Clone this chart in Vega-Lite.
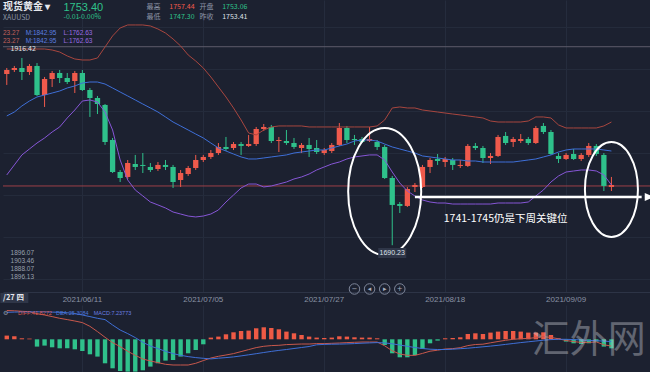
{
  "$schema": "https://vega.github.io/schema/vega-lite/v6.json",
  "background": "#1c2130",
  "padding": 0,
  "spacing": 1,
  "config": {"view": {"stroke": null}, "font": "Noto Sans CJK SC", "axis": {"labelFont": "Liberation Sans"}},
  "datasets": {
    "k": [
      {"d":"2021/05/28","o":1893.9,"c":1898.7,"h":1901.1,"l":1880.9,"u":1923.7,"m":1844.0,"b":1773.8,"hist":3.7,"dif":28.8,"dea":27.0},
      {"d":"2021/05/31","o":1898.7,"c":1901.1,"h":1903.5,"l":1896.3,"u":1923.7,"m":1848.7,"b":1785.7,"hist":3.0,"dif":28.5,"dea":27.2},
      {"d":"2021/06/01","o":1901.1,"c":1896.3,"h":1913.0,"l":1886.8,"u":1923.7,"m":1855.9,"b":1797.6,"hist":1.0,"dif":28.0,"dea":27.4},
      {"d":"2021/06/02","o":1896.3,"c":1903.5,"h":1905.8,"l":1892.8,"u":1923.7,"m":1861.8,"b":1804.7,"hist":0.7,"dif":27.6,"dea":27.4},
      {"d":"2021/06/03","o":1903.5,"c":1868.9,"h":1907.0,"l":1867.8,"u":1923.7,"m":1866.6,"b":1811.8,"hist":-7.3,"dif":25.7,"dea":27.5},
      {"d":"2021/06/04","o":1868.9,"c":1888.0,"h":1890.4,"l":1854.7,"u":1923.7,"m":1868.9,"b":1817.8,"hist":-6.3,"dif":24.3,"dea":27.4},
      {"d":"2021/06/07","o":1888.0,"c":1895.1,"h":1897.5,"l":1878.5,"u":1922.5,"m":1871.3,"b":1824.9,"hist":-8.0,"dif":22.7,"dea":27.2},
      {"d":"2021/06/08","o":1895.1,"c":1889.2,"h":1898.7,"l":1883.2,"u":1920.1,"m":1873.7,"b":1830.9,"hist":-9.0,"dif":21.0,"dea":27.0},
      {"d":"2021/06/09","o":1889.2,"c":1884.4,"h":1895.1,"l":1882.0,"u":1915.4,"m":1877.3,"b":1841.6,"hist":-9.0,"dif":19.7,"dea":26.5},
      {"d":"2021/06/10","o":1885.6,"c":1895.1,"h":1897.5,"l":1871.3,"u":1911.8,"m":1879.7,"b":1851.1,"hist":-10.0,"dif":18.3,"dea":25.8},
      {"d":"2021/06/11","o":1895.1,"c":1874.9,"h":1898.7,"l":1873.7,"u":1910.6,"m":1883.2,"b":1861.8,"hist":-11.7,"dif":16.7,"dea":24.3},
      {"d":"2021/06/14","o":1874.9,"c":1865.4,"h":1877.3,"l":1842.8,"u":1910.6,"m":1884.4,"b":1863.0,"hist":-15.0,"dif":13.0,"dea":22.7},
      {"d":"2021/06/15","o":1865.4,"c":1858.2,"h":1867.8,"l":1846.3,"u":1913.0,"m":1884.4,"b":1860.6,"hist":-17.3,"dif":7.7,"dea":21.0},
      {"d":"2021/06/16","o":1857.1,"c":1813.0,"h":1858.2,"l":1809.5,"u":1926.1,"m":1882.0,"b":1848.7,"hist":-24.0,"dif":2.0,"dea":19.7},
      {"d":"2021/06/17","o":1815.4,"c":1777.3,"h":1817.8,"l":1776.1,"u":1939.2,"m":1877.3,"b":1827.3,"hist":-29.0,"dif":-3.3,"dea":14.3},
      {"d":"2021/06/18","o":1777.3,"c":1770.2,"h":1779.7,"l":1765.4,"u":1948.7,"m":1872.5,"b":1791.6,"hist":-31.7,"dif":-7.3,"dea":9.3},
      {"d":"2021/06/21","o":1771.4,"c":1788.0,"h":1791.6,"l":1769.0,"u":1952.3,"m":1867.8,"b":1767.8,"hist":-32.3,"dif":-12.0,"dea":5.7},
      {"d":"2021/06/22","o":1786.8,"c":1783.3,"h":1797.6,"l":1779.7,"u":1952.3,"m":1863.0,"b":1755.9,"hist":-32.3,"dif":-16.0,"dea":1.7},
      {"d":"2021/06/23","o":1785.7,"c":1784.5,"h":1799.9,"l":1776.1,"u":1952.3,"m":1858.2,"b":1748.8,"hist":-31.0,"dif":-19.7,"dea":-3.0},
      {"d":"2021/06/24","o":1783.3,"c":1779.7,"h":1788.0,"l":1777.3,"u":1951.1,"m":1853.5,"b":1741.6,"hist":-27.3,"dif":-21.7,"dea":-6.7},
      {"d":"2021/06/25","o":1780.9,"c":1785.7,"h":1789.2,"l":1778.5,"u":1947.5,"m":1848.7,"b":1738.1,"hist":-24.0,"dif":-23.3,"dea":-9.3},
      {"d":"2021/06/28","o":1785.7,"c":1783.3,"h":1791.6,"l":1779.7,"u":1942.7,"m":1842.8,"b":1734.5,"hist":-21.3,"dif":-25.0,"dea":-12.0},
      {"d":"2021/06/29","o":1783.3,"c":1765.4,"h":1785.7,"l":1758.3,"u":1935.6,"m":1836.8,"b":1729.7,"hist":-20.7,"dif":-25.7,"dea":-14.3},
      {"d":"2021/06/30","o":1767.8,"c":1776.1,"h":1779.7,"l":1759.5,"u":1927.3,"m":1832.1,"b":1727.3,"hist":-17.3,"dif":-25.7,"dea":-16.0},
      {"d":"2021/07/01","o":1774.9,"c":1782.1,"h":1784.5,"l":1772.6,"u":1916.6,"m":1827.3,"b":1724.9,"hist":-14.0,"dif":-25.7,"dea":-17.3},
      {"d":"2021/07/02","o":1782.1,"c":1791.6,"h":1797.6,"l":1779.7,"u":1909.4,"m":1822.5,"b":1723.8,"hist":-10.7,"dif":-24.0,"dea":-18.3},
      {"d":"2021/07/05","o":1791.6,"c":1795.2,"h":1797.6,"l":1789.2,"u":1901.1,"m":1817.8,"b":1724.9,"hist":-5.0,"dif":-21.3,"dea":-19.0},
      {"d":"2021/07/06","o":1795.2,"c":1799.9,"h":1803.5,"l":1792.8,"u":1890.4,"m":1811.8,"b":1727.3,"hist":1.7,"dif":-18.7,"dea":-19.6},
      {"d":"2021/07/07","o":1799.9,"c":1807.1,"h":1811.8,"l":1797.6,"u":1878.5,"m":1805.9,"b":1732.1,"hist":2.7,"dif":-17.0,"dea":-18.9},
      {"d":"2021/07/08","o":1807.1,"c":1804.7,"h":1819.0,"l":1802.3,"u":1866.6,"m":1802.3,"b":1741.6,"hist":5.0,"dif":-15.7,"dea":-18.3},
      {"d":"2021/07/09","o":1805.9,"c":1810.6,"h":1813.0,"l":1803.5,"u":1853.5,"m":1798.7,"b":1749.9,"hist":7.0,"dif":-14.3,"dea":-17.6},
      {"d":"2021/07/12","o":1810.6,"c":1808.3,"h":1813.0,"l":1797.6,"u":1839.2,"m":1795.2,"b":1758.3,"hist":8.3,"dif":-12.3,"dea":-16.6},
      {"d":"2021/07/13","o":1808.3,"c":1810.6,"h":1821.4,"l":1807.1,"u":1823.7,"m":1792.8,"b":1763.0,"hist":8.7,"dif":-10.3,"dea":-15.5},
      {"d":"2021/07/14","o":1810.6,"c":1828.5,"h":1830.9,"l":1808.3,"u":1821.4,"m":1792.8,"b":1763.0,"hist":11.0,"dif":-8.3,"dea":-14.4},
      {"d":"2021/07/15","o":1828.5,"c":1830.9,"h":1834.4,"l":1826.1,"u":1827.3,"m":1794.0,"b":1759.5,"hist":12.0,"dif":-7.0,"dea":-13.2},
      {"d":"2021/07/16","o":1830.9,"c":1814.2,"h":1833.3,"l":1811.8,"u":1830.9,"m":1795.2,"b":1760.7,"hist":11.3,"dif":-6.3,"dea":-12.1},
      {"d":"2021/07/19","o":1814.2,"c":1815.4,"h":1819.0,"l":1801.1,"u":1832.1,"m":1796.4,"b":1763.0,"hist":10.0,"dif":-6.0,"dea":-11.1},
      {"d":"2021/07/20","o":1814.2,"c":1811.8,"h":1827.3,"l":1809.5,"u":1832.1,"m":1797.6,"b":1765.4,"hist":7.7,"dif":-5.3,"dea":-10.2},
      {"d":"2021/07/21","o":1811.8,"c":1807.1,"h":1817.8,"l":1804.7,"u":1832.1,"m":1799.9,"b":1769.0,"hist":6.0,"dif":-5.0,"dea":-9.2},
      {"d":"2021/07/22","o":1805.9,"c":1809.5,"h":1811.8,"l":1799.9,"u":1832.1,"m":1801.1,"b":1771.4,"hist":4.3,"dif":-4.7,"dea":-8.2},
      {"d":"2021/07/23","o":1809.5,"c":1804.7,"h":1817.8,"l":1795.2,"u":1830.9,"m":1802.3,"b":1774.9,"hist":2.7,"dif":-4.7,"dea":-7.2},
      {"d":"2021/07/26","o":1805.9,"c":1801.1,"h":1815.4,"l":1798.7,"u":1830.9,"m":1803.5,"b":1779.7,"hist":1.7,"dif":-4.3,"dea":-5.5},
      {"d":"2021/07/27","o":1799.9,"c":1803.5,"h":1805.9,"l":1797.6,"u":1830.9,"m":1803.5,"b":1783.3,"hist":1.3,"dif":-4.3,"dea":-5.1},
      {"d":"2021/07/28","o":1802.3,"c":1809.5,"h":1811.8,"l":1799.9,"u":1830.9,"m":1805.9,"b":1786.8,"hist":1.7,"dif":-4.0,"dea":-4.9},
      {"d":"2021/07/29","o":1809.5,"c":1829.7,"h":1835.6,"l":1808.3,"u":1830.9,"m":1808.3,"b":1789.2,"hist":3.0,"dif":-3.7,"dea":-4.8},
      {"d":"2021/07/30","o":1829.7,"c":1815.4,"h":1832.1,"l":1811.8,"u":1830.9,"m":1810.6,"b":1792.8,"hist":2.7,"dif":-3.3,"dea":-4.6},
      {"d":"2021/08/02","o":1816.6,"c":1815.4,"h":1821.4,"l":1809.5,"u":1830.9,"m":1814.2,"b":1795.2,"hist":2.0,"dif":-3.0,"dea":-4.3},
      {"d":"2021/08/03","o":1816.6,"c":1813.0,"h":1819.0,"l":1811.8,"u":1830.9,"m":1815.4,"b":1796.4,"hist":1.7,"dif":-2.7,"dea":-3.9},
      {"d":"2021/08/04","o":1814.2,"c":1816.6,"h":1830.9,"l":1813.0,"u":1830.9,"m":1815.4,"b":1797.6,"hist":1.7,"dif":-2.7,"dea":-3.6},
      {"d":"2021/08/05","o":1813.0,"c":1807.1,"h":1815.4,"l":1803.5,"u":1832.1,"m":1814.2,"b":1797.6,"hist":1.0,"dif":-2.7,"dea":-3.3},
      {"d":"2021/08/06","o":1807.1,"c":1770.2,"h":1809.5,"l":1769.0,"u":1839.2,"m":1810.6,"b":1791.6,"hist":-5.7,"dif":-6.5,"dea":-3.6},
      {"d":"2021/08/09","o":1770.2,"c":1738.1,"h":1772.6,"l":1690.2,"u":1853.5,"m":1807.1,"b":1777.3,"hist":-14.0,"dif":-11.5,"dea":-4.5},
      {"d":"2021/08/10","o":1739.2,"c":1736.9,"h":1741.6,"l":1728.5,"u":1854.7,"m":1804.7,"b":1764.2,"hist":-18.0,"dif":-14.7,"dea":-5.7},
      {"d":"2021/08/11","o":1736.9,"c":1757.1,"h":1759.5,"l":1735.7,"u":1853.5,"m":1802.3,"b":1754.7,"hist":-18.0,"dif":-16.0,"dea":-7.0},
      {"d":"2021/08/12","o":1759.5,"c":1761.9,"h":1764.2,"l":1753.5,"u":1853.5,"m":1799.9,"b":1748.8,"hist":-15.7,"dif":-16.1,"dea":-8.2},
      {"d":"2021/08/13","o":1759.5,"c":1783.3,"h":1785.7,"l":1758.3,"u":1851.1,"m":1796.4,"b":1744.0,"hist":-9.7,"dif":-14.1,"dea":-9.2},
      {"d":"2021/08/16","o":1783.3,"c":1791.6,"h":1794.0,"l":1776.1,"u":1849.9,"m":1795.2,"b":1741.6,"hist":-4.0,"dif":-11.9,"dea":-9.9},
      {"d":"2021/08/17","o":1792.8,"c":1790.4,"h":1798.7,"l":1785.7,"u":1848.7,"m":1794.0,"b":1740.4,"hist":-1.3,"dif":-10.9,"dea":-10.2},
      {"d":"2021/08/18","o":1789.2,"c":1792.8,"h":1795.2,"l":1783.3,"u":1847.5,"m":1792.8,"b":1740.4,"hist":1.0,"dif":-9.7,"dea":-10.2},
      {"d":"2021/08/19","o":1791.6,"c":1785.7,"h":1794.0,"l":1779.7,"u":1846.3,"m":1791.6,"b":1739.2,"hist":1.3,"dif":-9.3,"dea":-9.9},
      {"d":"2021/08/20","o":1784.5,"c":1785.7,"h":1791.6,"l":1782.1,"u":1845.2,"m":1791.6,"b":1739.2,"hist":2.0,"dif":-8.4,"dea":-9.4},
      {"d":"2021/08/23","o":1784.5,"c":1808.3,"h":1810.6,"l":1783.3,"u":1844.0,"m":1790.4,"b":1739.2,"hist":5.3,"dif":-6.3,"dea":-8.9},
      {"d":"2021/08/24","o":1808.3,"c":1805.9,"h":1811.8,"l":1803.5,"u":1842.8,"m":1790.4,"b":1739.2,"hist":6.0,"dif":-5.2,"dea":-8.2},
      {"d":"2021/08/25","o":1805.9,"c":1794.0,"h":1808.3,"l":1788.0,"u":1841.6,"m":1789.2,"b":1739.2,"hist":5.3,"dif":-4.9,"dea":-7.5},
      {"d":"2021/08/26","o":1794.0,"c":1796.4,"h":1799.9,"l":1786.8,"u":1838.0,"m":1789.2,"b":1739.2,"hist":6.7,"dif":-3.5,"dea":-6.8},
      {"d":"2021/08/27","o":1796.4,"c":1819.0,"h":1821.4,"l":1795.2,"u":1836.8,"m":1789.2,"b":1740.4,"hist":7.7,"dif":-2.2,"dea":-6.0},
      {"d":"2021/08/30","o":1820.2,"c":1811.8,"h":1824.9,"l":1809.5,"u":1836.8,"m":1789.2,"b":1740.4,"hist":8.3,"dif":-1.0,"dea":-5.1},
      {"d":"2021/08/31","o":1813.0,"c":1816.6,"h":1819.0,"l":1807.1,"u":1836.8,"m":1789.2,"b":1740.4,"hist":8.3,"dif":0.0,"dea":-4.2},
      {"d":"2021/09/01","o":1814.2,"c":1816.6,"h":1822.5,"l":1811.8,"u":1836.8,"m":1790.4,"b":1740.4,"hist":7.7,"dif":0.6,"dea":-3.3},
      {"d":"2021/09/02","o":1816.6,"c":1811.8,"h":1819.0,"l":1809.5,"u":1838.0,"m":1791.6,"b":1741.6,"hist":6.7,"dif":0.9,"dea":-2.5},
      {"d":"2021/09/03","o":1811.8,"c":1829.7,"h":1832.1,"l":1810.6,"u":1842.8,"m":1792.8,"b":1748.8,"hist":6.7,"dif":1.7,"dea":-1.7},
      {"d":"2021/09/06","o":1832.1,"c":1824.9,"h":1835.6,"l":1822.5,"u":1842.8,"m":1795.2,"b":1755.9,"hist":7.0,"dif":2.6,"dea":-0.9},
      {"d":"2021/09/07","o":1824.9,"c":1798.7,"h":1827.3,"l":1797.6,"u":1841.6,"m":1797.6,"b":1765.4,"hist":4.3,"dif":1.9,"dea":-0.3},
      {"d":"2021/09/08","o":1796.4,"c":1792.8,"h":1799.9,"l":1788.0,"u":1833.3,"m":1801.1,"b":1772.6,"hist":1.0,"dif":0.5,"dea":0.0},
      {"d":"2021/09/09","o":1792.8,"c":1797.6,"h":1799.9,"l":1791.6,"u":1829.7,"m":1803.5,"b":1777.3,"hist":-2.3,"dif":-1.2,"dea":0.0},
      {"d":"2021/09/10","o":1798.7,"c":1792.8,"h":1804.7,"l":1791.6,"u":1829.7,"m":1804.7,"b":1778.5,"hist":-4.0,"dif":-2.3,"dea":-0.3},
      {"d":"2021/09/13","o":1792.8,"c":1797.6,"h":1799.9,"l":1790.4,"u":1829.7,"m":1804.7,"b":1779.7,"hist":-4.7,"dif":-3.1,"dea":-0.7},
      {"d":"2021/09/14","o":1797.6,"c":1808.3,"h":1811.8,"l":1795.2,"u":1829.7,"m":1804.7,"b":1779.7,"hist":-4.0,"dif":-3.1,"dea":-1.1},
      {"d":"2021/09/15","o":1808.3,"c":1798.7,"h":1810.6,"l":1796.4,"u":1829.7,"m":1804.7,"b":1778.5,"hist":-2.3,"dif":-2.6,"dea":-1.4},
      {"d":"2021/09/16","o":1797.6,"c":1760.7,"h":1799.9,"l":1754.7,"u":1832.1,"m":1803.5,"b":1773.8,"hist":-7.3,"dif":-5.5,"dea":-1.8},
      {"d":"2021/09/17","o":1759.5,"c":1761.9,"h":1771.4,"l":1754.7,"u":1836.8,"m":1802.3,"b":1761.9,"hist":-9.0,"dif":-6.8,"dea":-2.3}
    ],
    "nav": [
      {"d":"2021/08/02","p":1638.1,"t":"−"},
      {"d":"2021/08/04","p":1638.1,"t":"◂"},
      {"d":"2021/08/06","p":1638.1,"t":"▸"},
      {"d":"2021/08/10","p":1638.1,"t":"+"}
    ]
  },
  "vconcat": [
    {
      "width": 650,
      "height": 292,
      "layer": [
        {
          "data": {"values": [{"p":1926.4,"k":"maxl"},{"p":1760.7,"k":"curl"}]},
          "mark": {"type": "rule", "strokeWidth": 1},
          "encoding": {
            "y": {"field": "p", "type": "quantitative", "title": null, "scale": {"domain": [1634.5, 1982]},
                  "axis": {"labels": false, "ticks": false, "domain": false, "grid": true, "gridColor": "#242b3b", "tickCount": 7, "title": null}},
            "color": {"field": "k", "type": "nominal", "legend": null,
                      "scale": {"domain": ["hdr","grn","lab","red","wht","bu","bm","bl","tip","maxl","curl","dif","dea","mac"],
                                "range": ["#e6e8ed","#2fc18b","#8b93a5","#ef5a4c","#dfe2e8","#c0605a","#5b7fe0","#9a6be0","#98a0ae","#5e5b6b","#9c3f48","#d9574d","#4d76d9","#6b7fe0"]}}
          }
        },
        {
          "data": {"name": "k"},
          "mark": {"type": "bar", "width": {"band": 0.7}},
          "encoding": {
            "x": {"field": "d", "type": "ordinal", "title": null,
                  "scale": {"type": "band", "paddingInner": 0, "paddingOuter": 0,
                            "domain": ["2021/05/28","2021/05/31","2021/06/01","2021/06/02","2021/06/03","2021/06/04","2021/06/07","2021/06/08","2021/06/09","2021/06/10","2021/06/11","2021/06/14","2021/06/15","2021/06/16","2021/06/17","2021/06/18","2021/06/21","2021/06/22","2021/06/23","2021/06/24","2021/06/25","2021/06/28","2021/06/29","2021/06/30","2021/07/01","2021/07/02","2021/07/05","2021/07/06","2021/07/07","2021/07/08","2021/07/09","2021/07/12","2021/07/13","2021/07/14","2021/07/15","2021/07/16","2021/07/19","2021/07/20","2021/07/21","2021/07/22","2021/07/23","2021/07/26","2021/07/27","2021/07/28","2021/07/29","2021/07/30","2021/08/02","2021/08/03","2021/08/04","2021/08/05","2021/08/06","2021/08/09","2021/08/10","2021/08/11","2021/08/12","2021/08/13","2021/08/16","2021/08/17","2021/08/18","2021/08/19","2021/08/20","2021/08/23","2021/08/24","2021/08/25","2021/08/26","2021/08/27","2021/08/30","2021/08/31","2021/09/01","2021/09/02","2021/09/03","2021/09/06","2021/09/07","2021/09/08","2021/09/09","2021/09/10","2021/09/13","2021/09/14","2021/09/15","2021/09/16","2021/09/17","2021/09/20","2021/09/21","2021/09/22","2021/09/23","2021/09/24"]},
                  "axis": {"values": ["2021/06/11","2021/07/05","2021/07/27","2021/08/18","2021/09/09"], "labelAngle": 0, "labelColor": "#8a92a4", "labelFontSize": 8, "labelPadding": 3, "ticks": false, "domain": true, "domainColor": "#2d3446", "grid": true, "gridColor": "#252c3d", "title": null}},
            "y": {"field": "o", "type": "quantitative", "title": null, "scale": {"domain": [1634.5, 1982]}},
            "y2": {"field": "c"},
            "color": {"condition": {"test": "datum.c >= datum.o", "value": "#ef5a4c"}, "value": "#2fc18b"}
          }
        },
        {
          "data": {"name": "k"},
          "mark": {"type": "rule", "strokeWidth": 1},
          "encoding": {
            "x": {"field": "d", "type": "ordinal", "title": null, "scale": {"type": "band"}},
            "y": {"field": "l", "type": "quantitative", "title": null, "scale": {"domain": [1634.5, 1982]}},
            "y2": {"field": "h"},
            "color": {"condition": {"test": "datum.c >= datum.o", "value": "#ef5a4c"}, "value": "#2fc18b"}
          }
        },
        {
          "data": {"name": "k"},
          "mark": {"type": "line", "color": "#a8463f", "strokeWidth": 1},
          "encoding": {
            "x": {"field": "d", "type": "ordinal", "title": null, "scale": {"type": "band"}},
            "y": {"field": "u", "type": "quantitative", "title": null, "scale": {"domain": [1634.5, 1982]}}
          }
        },
        {
          "data": {"name": "k"},
          "mark": {"type": "line", "color": "#3e6fd8", "strokeWidth": 1},
          "encoding": {
            "x": {"field": "d", "type": "ordinal", "title": null, "scale": {"type": "band"}},
            "y": {"field": "m", "type": "quantitative", "title": null, "scale": {"domain": [1634.5, 1982]}}
          }
        },
        {
          "data": {"name": "k"},
          "mark": {"type": "line", "color": "#8656d6", "strokeWidth": 1},
          "encoding": {
            "x": {"field": "d", "type": "ordinal", "title": null, "scale": {"type": "band"}},
            "y": {"field": "b", "type": "quantitative", "title": null, "scale": {"domain": [1634.5, 1982]}}
          }
        },
        {
          "data": {"values": [{"d":"2021/08/06","p":1754.1}]},
          "mark": {"type": "point", "filled": false, "color": "#ffffff", "strokeWidth": 2, "opacity": 1, "size": 16129,
                   "shape": "M0.575,0C0.575,0.5523,0.3176,1,0,1C-0.3176,1,-0.575,0.5523,-0.575,0C-0.575,-0.5523,-0.3176,-1,0,-1C0.3176,-1,0.575,-0.5523,0.575,0Z"},
          "encoding": {
            "x": {"field": "d", "type": "ordinal", "title": null, "scale": {"type": "band"}},
            "y": {"field": "p", "type": "quantitative", "title": null, "scale": {"domain": [1634.5, 1982]}}
          }
        },
        {
          "data": {"values": [{"d":"2021/09/17","p":1756.5}]},
          "mark": {"type": "point", "filled": false, "color": "#ffffff", "strokeWidth": 2, "opacity": 1, "size": 9025,
                   "shape": "M0.558,0C0.558,0.5523,0.3082,1,0,1C-0.3082,1,-0.558,0.5523,-0.558,0C-0.558,-0.5523,-0.3082,-1,0,-1C0.3082,-1,0.558,-0.5523,0.558,0Z"},
          "encoding": {
            "x": {"field": "d", "type": "ordinal", "title": null, "scale": {"type": "band"}},
            "y": {"field": "p", "type": "quantitative", "title": null, "scale": {"domain": [1634.5, 1982]}}
          }
        },
        {
          "data": {"values": [{"d":"2021/08/12","d2":"2021/09/23","p":1747.6}]},
          "mark": {"type": "rule", "color": "#ffffff", "strokeWidth": 2.5},
          "encoding": {
            "x": {"field": "d", "type": "ordinal", "title": null, "scale": {"type": "band"}},
            "x2": {"field": "d2"},
            "y": {"field": "p", "type": "quantitative", "title": null, "scale": {"domain": [1634.5, 1982]}}
          }
        },
        {
          "data": {"values": [{"d":"2021/09/24","p":1747.6}]},
          "mark": {"type": "point", "filled": true, "color": "#ffffff", "opacity": 1, "size": 81, "shape": "M-1,-0.9L1,0L-1,0.9Z"},
          "encoding": {
            "x": {"field": "d", "type": "ordinal", "title": null, "scale": {"type": "band"}},
            "y": {"field": "p", "type": "quantitative", "title": null, "scale": {"domain": [1634.5, 1982]}}
          }
        },
        {
          "data": {"name": "nav"},
          "mark": {"type": "point", "shape": "circle", "filled": false, "color": "#7e869a", "strokeWidth": 1, "size": 110, "opacity": 1},
          "encoding": {
            "x": {"field": "d", "type": "ordinal", "title": null, "scale": {"type": "band"}},
            "y": {"field": "p", "type": "quantitative", "title": null, "scale": {"domain": [1634.5, 1982]}}
          }
        },
        {
          "data": {"name": "nav"},
          "mark": {"type": "text", "align": "center", "baseline": "middle", "fontSize": 7, "color": "#a9b0bf", "font": "DejaVu Sans"},
          "encoding": {
            "x": {"field": "d", "type": "ordinal", "title": null, "scale": {"type": "band"}},
            "y": {"field": "p", "type": "quantitative", "title": null, "scale": {"domain": [1634.5, 1982]}},
            "text": {"field": "t"}
          }
        },
        {
          "data": {"values": [{"d":"2021/08/09","p":1680.9},{"d":"2021/05/31","p":1627.4}]},
          "mark": {"type": "point", "filled": true, "color": "#2f3648", "opacity": 1, "size": 784, "shape": "M-1,-0.36L1,-0.36L1,0.36L-1,0.36Z"},
          "encoding": {
            "x": {"field": "d", "type": "ordinal", "title": null, "scale": {"type": "band"}},
            "y": {"field": "p", "type": "quantitative", "title": null, "scale": {"domain": [1634.5, 1982]}}
          }
        },
        {
          "data": {"values": [{"d":"2021/05/28","p":1973.1,"t":"现货黄金 ▾","s":"hdr"}]},
          "mark": {"type": "text", "align": "left", "baseline": "middle", "dx": -3.78, "fontSize": 10, "fontWeight": "bold"},
          "encoding": {
            "x": {"field": "d", "type": "ordinal", "title": null, "scale": {"type": "band"}},
            "y": {"field": "p", "type": "quantitative", "title": null, "scale": {"domain": [1634.5, 1982]}},
            "text": {"field": "t"},
            "color": {"field": "s", "type": "nominal", "legend": null,
                      "scale": {"domain": ["hdr","grn","lab","red","wht","bu","bm","bl","tip","maxl","curl","dif","dea","mac"],
                                "range": ["#e6e8ed","#2fc18b","#8b93a5","#ef5a4c","#dfe2e8","#c0605a","#5b7fe0","#9a6be0","#98a0ae","#5e5b6b","#9c3f48","#d9574d","#4d76d9","#6b7fe0"]}}
          }
        },
        {
          "data": {"values": [{"d":"2021/06/09","p":1973.0,"t":"1753.40","s":"grn"}]},
          "mark": {"type": "text", "align": "left", "baseline": "middle", "dx": -3.78, "fontSize": 11, "font": "Liberation Sans"},
          "encoding": {
            "x": {"field": "d", "type": "ordinal", "title": null, "scale": {"type": "band"}},
            "y": {"field": "p", "type": "quantitative", "title": null, "scale": {"domain": [1634.5, 1982]}},
            "text": {"field": "t"},
            "color": {"field": "s", "type": "nominal", "legend": null,
                      "scale": {"domain": ["hdr","grn","lab","red","wht","bu","bm","bl","tip","maxl","curl","dif","dea","mac"],
                                "range": ["#e6e8ed","#2fc18b","#8b93a5","#ef5a4c","#dfe2e8","#c0605a","#5b7fe0","#9a6be0","#98a0ae","#5e5b6b","#9c3f48","#d9574d","#4d76d9","#6b7fe0"]}}
          }
        },
        {
          "data": {"values": [
            {"d":"2021/06/24","p":1974.0,"t":"最高","s":"lab"},
            {"d":"2021/06/29","p":1974.0,"t":"1757.44","s":"red"},
            {"d":"2021/07/05","p":1974.0,"t":"开盘","s":"lab"},
            {"d":"2021/07/08","p":1974.0,"t":"1753.06","s":"grn"},
            {"d":"2021/05/28","p":1960.6,"t":"XAUUSD","s":"lab"},
            {"d":"2021/06/09","p":1961.2,"t":"-0.01","s":"grn"},
            {"d":"2021/06/11","p":1961.2,"t":"-0.00%","s":"grn"},
            {"d":"2021/06/24","p":1961.2,"t":"最低","s":"lab"},
            {"d":"2021/06/29","p":1961.2,"t":"1747.30","s":"grn"},
            {"d":"2021/07/05","p":1961.2,"t":"昨收","s":"lab"},
            {"d":"2021/07/08","p":1961.2,"t":"1753.41","s":"wht"},
            {"d":"2021/05/31","p":1923.7,"t":"1916.42","s":"wht"}
          ]},
          "mark": {"type": "text", "align": "left", "baseline": "middle", "dx": -3.78, "fontSize": 7},
          "encoding": {
            "x": {"field": "d", "type": "ordinal", "title": null, "scale": {"type": "band"}},
            "y": {"field": "p", "type": "quantitative", "title": null, "scale": {"domain": [1634.5, 1982]}},
            "text": {"field": "t"},
            "color": {"field": "s", "type": "nominal", "legend": null,
                      "scale": {"domain": ["hdr","grn","lab","red","wht","bu","bm","bl","tip","maxl","curl","dif","dea","mac"],
                                "range": ["#e6e8ed","#2fc18b","#8b93a5","#ef5a4c","#dfe2e8","#c0605a","#5b7fe0","#9a6be0","#98a0ae","#5e5b6b","#9c3f48","#d9574d","#4d76d9","#6b7fe0"]}}
          }
        },
        {
          "data": {"values": [
            {"d":"2021/05/28","p":1942.7,"t":"23.27","s":"bu"},
            {"d":"2021/06/02","p":1942.7,"t":"M:1842.95","s":"bm"},
            {"d":"2021/06/09","p":1942.7,"t":"L:1762.63","s":"bl"},
            {"d":"2021/05/28","p":1933.8,"t":"23.27","s":"bu"},
            {"d":"2021/06/02","p":1933.8,"t":"M:1842.95","s":"bm"},
            {"d":"2021/06/09","p":1933.8,"t":"L:1762.63","s":"bl"},
            {"d":"2021/05/31","p":1680.9,"t":"1896.07","s":"tip"},
            {"d":"2021/05/31","p":1671.4,"t":"1903.46","s":"tip"},
            {"d":"2021/05/31","p":1661.9,"t":"1888.07","s":"tip"},
            {"d":"2021/05/31","p":1652.4,"t":"1896.13","s":"tip"}
          ]},
          "mark": {"type": "text", "align": "left", "baseline": "middle", "dx": -3.78, "fontSize": 6.5, "font": "Liberation Sans"},
          "encoding": {
            "x": {"field": "d", "type": "ordinal", "title": null, "scale": {"type": "band"}},
            "y": {"field": "p", "type": "quantitative", "title": null, "scale": {"domain": [1634.5, 1982]}},
            "text": {"field": "t"},
            "color": {"field": "s", "type": "nominal", "legend": null,
                      "scale": {"domain": ["hdr","grn","lab","red","wht","bu","bm","bl","tip","maxl","curl","dif","dea","mac"],
                                "range": ["#e6e8ed","#2fc18b","#8b93a5","#ef5a4c","#dfe2e8","#c0605a","#5b7fe0","#9a6be0","#98a0ae","#5e5b6b","#9c3f48","#d9574d","#4d76d9","#6b7fe0"]}}
          }
        },
        {
          "data": {"values": [{"d":"2021/08/09","p":1680.9,"t":"1690.23"}]},
          "mark": {"type": "text", "align": "center", "baseline": "middle", "fontSize": 7, "color": "#dfe2e8", "font": "Liberation Sans"},
          "encoding": {
            "x": {"field": "d", "type": "ordinal", "title": null, "scale": {"type": "band"}},
            "y": {"field": "p", "type": "quantitative", "title": null, "scale": {"domain": [1634.5, 1982]}},
            "text": {"field": "t"}
          }
        },
        {
          "data": {"values": [{"d":"2021/08/30","p":1721.4,"t":"1741-1745仍是下周关键位"}]},
          "mark": {"type": "text", "align": "center", "baseline": "middle", "fontSize": 10.5, "color": "#ffffff"},
          "encoding": {
            "x": {"field": "d", "type": "ordinal", "title": null, "scale": {"type": "band"}},
            "y": {"field": "p", "type": "quantitative", "title": null, "scale": {"domain": [1634.5, 1982]}},
            "text": {"field": "t"}
          }
        },
        {
          "data": {"values": [{"d":"2021/05/28","p":1627.4,"t":"/27 四"}]},
          "mark": {"type": "text", "align": "left", "baseline": "middle", "dx": -3.78, "fontSize": 7.5, "fontWeight": "bold", "color": "#e6e8ed"},
          "encoding": {
            "x": {"field": "d", "type": "ordinal", "title": null, "scale": {"type": "band"}},
            "y": {"field": "p", "type": "quantitative", "title": null, "scale": {"domain": [1634.5, 1982]}},
            "text": {"field": "t"}
          }
        }
      ]
    },
    {
      "width": 650,
      "height": 67,
      "layer": [
        {
          "data": {"name": "k"},
          "mark": {"type": "bar", "width": {"band": 0.58}},
          "encoding": {
            "x": {"field": "d", "type": "ordinal", "title": null,
                  "scale": {"type": "band", "paddingInner": 0, "paddingOuter": 0,
                            "domain": ["2021/05/28","2021/05/31","2021/06/01","2021/06/02","2021/06/03","2021/06/04","2021/06/07","2021/06/08","2021/06/09","2021/06/10","2021/06/11","2021/06/14","2021/06/15","2021/06/16","2021/06/17","2021/06/18","2021/06/21","2021/06/22","2021/06/23","2021/06/24","2021/06/25","2021/06/28","2021/06/29","2021/06/30","2021/07/01","2021/07/02","2021/07/05","2021/07/06","2021/07/07","2021/07/08","2021/07/09","2021/07/12","2021/07/13","2021/07/14","2021/07/15","2021/07/16","2021/07/19","2021/07/20","2021/07/21","2021/07/22","2021/07/23","2021/07/26","2021/07/27","2021/07/28","2021/07/29","2021/07/30","2021/08/02","2021/08/03","2021/08/04","2021/08/05","2021/08/06","2021/08/09","2021/08/10","2021/08/11","2021/08/12","2021/08/13","2021/08/16","2021/08/17","2021/08/18","2021/08/19","2021/08/20","2021/08/23","2021/08/24","2021/08/25","2021/08/26","2021/08/27","2021/08/30","2021/08/31","2021/09/01","2021/09/02","2021/09/03","2021/09/06","2021/09/07","2021/09/08","2021/09/09","2021/09/10","2021/09/13","2021/09/14","2021/09/15","2021/09/16","2021/09/17","2021/09/20","2021/09/21","2021/09/22","2021/09/23","2021/09/24"]},
                  "axis": {"values": ["2021/06/11","2021/07/05","2021/07/27","2021/08/18","2021/09/09"], "labels": false, "ticks": false, "domain": false, "grid": true, "gridColor": "#252c3d", "title": null}},
            "y": {"field": "hist", "type": "quantitative", "title": null, "axis": null, "scale": {"domain": [-32.7, 34.3]}},
            "color": {"condition": {"test": "datum.hist >= 0", "value": "#ee5a45"}, "value": "#2fc18b"}
          }
        },
        {
          "data": {"name": "k"},
          "mark": {"type": "line", "color": "#c8584c", "strokeWidth": 1},
          "encoding": {
            "x": {"field": "d", "type": "ordinal", "title": null, "scale": {"type": "band"}},
            "y": {"field": "dif", "type": "quantitative", "title": null, "axis": null, "scale": {"domain": [-32.7, 34.3]}}
          }
        },
        {
          "data": {"name": "k"},
          "mark": {"type": "line", "color": "#3f6fd6", "strokeWidth": 1},
          "encoding": {
            "x": {"field": "d", "type": "ordinal", "title": null, "scale": {"type": "band"}},
            "y": {"field": "dea", "type": "quantitative", "title": null, "axis": null, "scale": {"domain": [-32.7, 34.3]}}
          }
        },
        {
          "data": {"values": [
            {"d":"2021/05/28","v":26.8,"t":"⚙","s":"lab"},
            {"d":"2021/06/01","v":26.8,"t":"DIFF:41.8272","s":"dif"},
            {"d":"2021/06/08","v":26.8,"t":"DEA:25.3084","s":"dea"},
            {"d":"2021/06/15","v":26.8,"t":"MACD:7.23773","s":"mac"}
          ]},
          "mark": {"type": "text", "align": "left", "baseline": "middle", "dx": -3.78, "fontSize": 5.5, "font": "Liberation Sans"},
          "encoding": {
            "x": {"field": "d", "type": "ordinal", "title": null, "scale": {"type": "band"}},
            "y": {"field": "v", "type": "quantitative", "title": null, "axis": null, "scale": {"domain": [-32.7, 34.3]}},
            "text": {"field": "t"},
            "color": {"field": "s", "type": "nominal", "legend": null,
                      "scale": {"domain": ["hdr","grn","lab","red","wht","bu","bm","bl","tip","maxl","curl","dif","dea","mac"],
                                "range": ["#e6e8ed","#2fc18b","#8b93a5","#ef5a4c","#dfe2e8","#c0605a","#5b7fe0","#9a6be0","#98a0ae","#5e5b6b","#9c3f48","#d9574d","#4d76d9","#6b7fe0"]}}
          }
        },
        {
          "data": {"values": [{"d":"2021/09/14","v":-1.7,"t":"汇外网"}]},
          "mark": {"type": "text", "align": "center", "baseline": "middle", "fontSize": 38, "color": "#c9ccd3", "opacity": 0.4},
          "encoding": {
            "x": {"field": "d", "type": "ordinal", "title": null, "scale": {"type": "band"}},
            "y": {"field": "v", "type": "quantitative", "title": null, "axis": null, "scale": {"domain": [-32.7, 34.3]}},
            "text": {"field": "t"}
          }
        }
      ]
    }
  ]
}
